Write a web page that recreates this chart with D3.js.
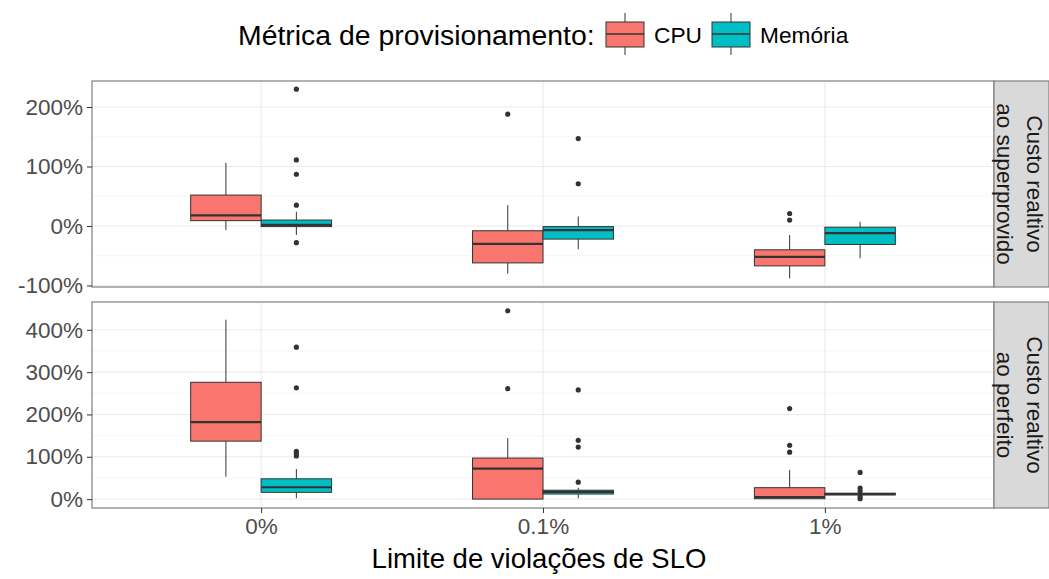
<!DOCTYPE html>
<html>
<head>
<meta charset="utf-8">
<script src="https://d3js.org/d3.v7.min.js"></script>
<style>
  html, body { margin: 0; padding: 0; background: #fff; }
  svg { display: block; font-family: "Liberation Sans", Arial, sans-serif; }
  .grid-major { stroke: #ebebeb; stroke-width: 1.1; }
  .grid-minor { stroke: #f4f4f4; stroke-width: 0.8; }
  .tick-label { fill: #4d4d4d; font-size: 22.5px; }
  .strip-text { fill: #1a1a1a; font-size: 22.5px; }
</style>
</head>
<body>
<svg width="1049" height="579"></svg>
<script>
// ---- data ----
const categories = ["0%", "0.1%", "1%"];
const series = ["CPU", "Memória"];
const panelNames = [["Custo realtivo", "ao superprovido"], ["Custo realtivo", "ao perfeito"]];

// box stats per category: [lower whisker, q1, median, q3, upper whisker]
const topCpu = [[-7, 9, 18, 52, 106], [-80, -62, -30, -8, 35], [-88, -67, -52, -40, -15]];
const topCpuOut = [[], [188], [21, 10]];
const topMem = [[-15, -1, 2, 10, 24], [-39, -22, -7, -1, 16], [-54, -31, -12, -2, 7]];
const topMemOut = [[230, 111, 87, 35, -28], [147, 71], []];

const botCpu = [[53, 137, 182, 276, 424], [0, 0, 72, 97, 144], [0, 1, 5, 27, 69]];
const botCpuOut = [[], [445, 261], [214, 127, 111]];
const botMem = [[2, 16, 28, 48, 71], [2, 12, 17, 21, 27], [8, 10, 12, 14, 16]];
const botMemOut = [[359, 263, 113, 107, 102], [258, 139, 123, 40], [63, 26, 19, 6, 1]];

const topTicks = [-100, 0, 100, 200];
const topMinor = [-50, 50, 150];
const botTicks = [0, 100, 200, 300, 400];
const botMinor = [50, 150, 250, 350];

const colors = {"CPU": "#F8766D", "Memória": "#00BFC4"};

// ---- layout ----
const svg = d3.select("svg");
const left = 92, right = 994, stripRight = 1049;

const x = d3.scalePoint().domain(categories).range([left, right]).padding(0.6);
const dodge = d3.scaleBand().domain(series)
    .range([-0.25 * x.step(), 0.25 * x.step()]);

const panels = [
  {name: panelNames[0], top: 81, bottom: 287, domain: [-102.5, 243.7],
   ticks: topTicks, minor: topMinor,
   data: {"CPU": [topCpu, topCpuOut], "Memória": [topMem, topMemOut]}},
  {name: panelNames[1], top: 302, bottom: 508, domain: [-21, 465.7],
   ticks: botTicks, minor: botMinor,
   data: {"CPU": [botCpu, botCpuOut], "Memória": [botMem, botMemOut]}}
];

panels.forEach(p => {
  const y = d3.scaleLinear().domain(p.domain).range([p.bottom, p.top]);
  const g = svg.append("g");

  // grid
  g.selectAll(".grid-minor").data(p.minor).join("line")
    .attr("class", "grid-minor")
    .attr("x1", left).attr("x2", right)
    .attr("y1", d => y(d)).attr("y2", d => y(d));
  g.selectAll(".grid-major.h").data(p.ticks).join("line")
    .attr("class", "grid-major h")
    .attr("x1", left).attr("x2", right)
    .attr("y1", d => y(d)).attr("y2", d => y(d));
  g.selectAll(".grid-major.v").data(categories).join("line")
    .attr("class", "grid-major v")
    .attr("x1", d => x(d)).attr("x2", d => x(d))
    .attr("y1", p.top).attr("y2", p.bottom);

  // boxes
  series.forEach(s => {
    const [stats, outs] = p.data[s];
    const bw = dodge.bandwidth();
    const bg = g.append("g");
    stats.forEach((st, i) => {
      const x0 = x(categories[i]) + dodge(s);
      const cx = x0 + bw / 2;
      const [lo, q1, med, q3, hi] = st;
      bg.append("line").attr("x1", cx).attr("x2", cx)
        .attr("y1", y(q3)).attr("y2", y(hi))
        .attr("stroke", "#333").attr("stroke-width", 1);
      bg.append("line").attr("x1", cx).attr("x2", cx)
        .attr("y1", y(q1)).attr("y2", y(lo))
        .attr("stroke", "#333").attr("stroke-width", 1);
      bg.append("rect").attr("x", x0).attr("width", bw)
        .attr("y", y(q3)).attr("height", Math.max(0.5, y(q1) - y(q3)))
        .attr("fill", colors[s]).attr("stroke", "#333").attr("stroke-width", 1);
      bg.append("line").attr("x1", x0).attr("x2", x0 + bw)
        .attr("y1", y(med)).attr("y2", y(med))
        .attr("stroke", "#333").attr("stroke-width", 2.2);
      bg.selectAll(null).data(outs[i]).join("circle")
        .attr("cx", cx).attr("cy", d => y(d)).attr("r", 2.6)
        .attr("fill", "#333");
    });
  });

  // panel border
  g.append("rect").attr("x", left).attr("y", p.top)
    .attr("width", right - left).attr("height", p.bottom - p.top)
    .attr("fill", "none").attr("stroke", "#7f7f7f").attr("stroke-width", 1.2);

  // y axis
  const ya = g.append("g").attr("transform", `translate(${left},0)`)
    .call(d3.axisLeft(y).tickValues(p.ticks).tickSize(5).tickPadding(4)
      .tickFormat(d => d + "%"));
  ya.select(".domain").remove();
  ya.selectAll(".tick line").attr("stroke", "#333");
  ya.selectAll(".tick text").attr("class", "tick-label")
    .attr("font-family", null).attr("font-size", null).attr("fill", null);

  // strip
  g.append("rect").attr("x", right).attr("y", p.top)
    .attr("width", stripRight - right).attr("height", p.bottom - p.top)
    .attr("fill", "#d9d9d9").attr("stroke", "#7f7f7f").attr("stroke-width", 1.2);
  const st = g.append("text").attr("class", "strip-text")
    .attr("text-anchor", "middle")
    .attr("transform", `translate(${right + 27},${(p.top + p.bottom) / 2}) rotate(90)`);
  st.append("tspan").attr("x", 0).attr("dy", "-0.25em").text(p.name[0]);
  st.append("tspan").attr("x", 0).attr("dy", "1.3em").text(p.name[1]);
});

// x axis
const xa = svg.append("g").attr("transform", `translate(0,${panels[1].bottom})`)
  .call(d3.axisBottom(x).tickSize(5).tickPadding(5));
xa.select(".domain").remove();
xa.selectAll(".tick line").attr("stroke", "#333");
xa.selectAll(".tick text").attr("class", "tick-label")
  .attr("font-family", null).attr("font-size", null).attr("fill", null);

svg.append("text").attr("x", (left + right) / 2 - 4).attr("y", 568)
  .attr("text-anchor", "middle").attr("font-size", "27.5px").attr("fill", "#000")
  .text("Limite de violações de SLO");

// legend
const lg = svg.append("g");
lg.append("text").attr("x", 238).attr("y", 45).attr("font-size", "28.4px")
  .attr("fill", "#000").text("Métrica de provisionamento:");
const keyX = {"CPU": 606, "Memória": 712};
series.forEach(s => {
  const kx = keyX[s], kw = 38;
  lg.append("line").attr("x1", kx + kw / 2).attr("x2", kx + kw / 2)
    .attr("y1", 13).attr("y2", 55).attr("stroke", "#333");
  lg.append("rect").attr("x", kx).attr("y", 22).attr("width", kw).attr("height", 25)
    .attr("fill", colors[s]).attr("stroke", "#333");
  lg.append("line").attr("x1", kx).attr("x2", kx + kw).attr("y1", 34).attr("y2", 34)
    .attr("stroke", "#333").attr("stroke-width", 1.4);
  lg.append("text").attr("x", kx + kw + 10).attr("y", 43).attr("font-size", "22.7px")
    .attr("fill", "#000").text(s);
});
</script>
</body>
</html>
